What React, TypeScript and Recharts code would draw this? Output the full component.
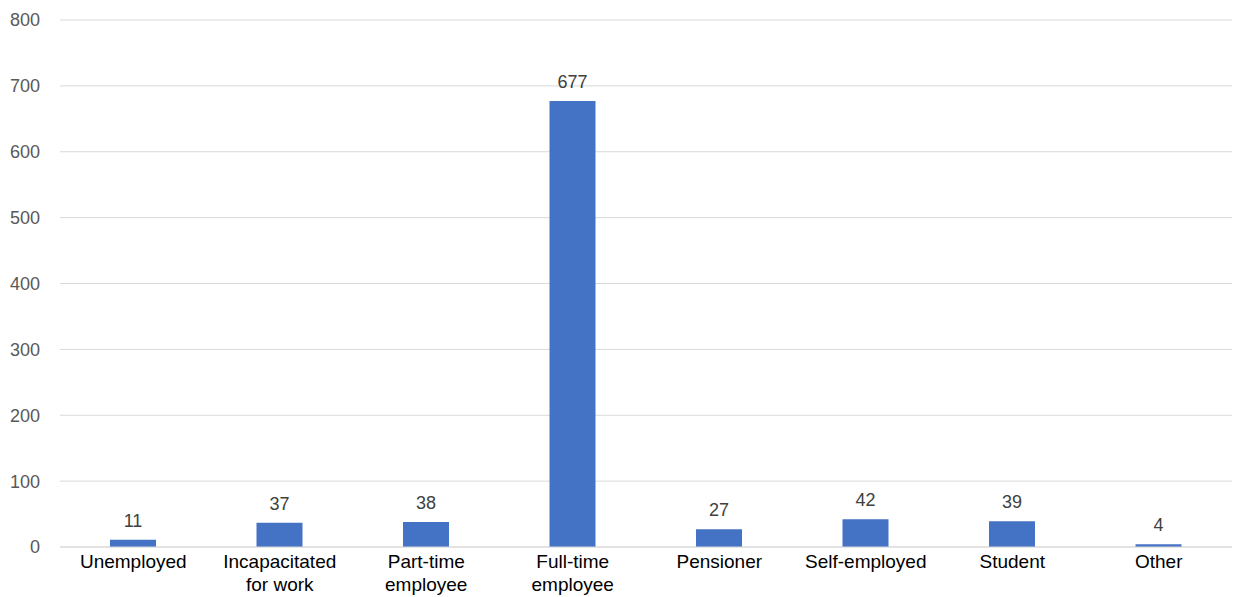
import { Bar, BarChart, CartesianGrid, LabelList, XAxis, YAxis } from 'recharts';

// Employment status categories (line breaks as in the original axis)
const categories = [
  'Unemployed',
  'Incapacitated\nfor work',
  'Part-time\nemployee',
  'Full-time\nemployee',
  'Pensioner',
  'Self-employed',
  'Student',
  'Other',
];
const counts = [11, 37, 38, 677, 27, 42, 39, 4];
const yTicks = [0, 100, 200, 300, 400, 500, 600, 700, 800];

const data = categories.map((name, i) => ({ name, value: counts[i] }));

const FONT = "'Liberation Sans', Arial, sans-serif";

// Multi-line category tick
function CategoryTick({ x, y, payload }: { x?: number; y?: number; payload?: { value: string } }) {
  const lines = String(payload?.value ?? '').split('\n');
  return (
    <text x={x} y={y} textAnchor="middle" fill="#000" fontSize={19} fontFamily={FONT}>
      {lines.map((line, i) => (
        <tspan key={i} x={x} dy={i === 0 ? 13 : 23}>
          {line}
        </tspan>
      ))}
    </text>
  );
}

export default function App() {
  return (
    <div style={{ position: 'absolute', left: 0, top: 0, background: '#fff' }}>
      <BarChart
        width={1234}
        height={597}
        data={data}
        margin={{ top: 20, right: 2, bottom: 0, left: 0 }}
        barCategoryGap={0}
      >
        <CartesianGrid vertical={false} stroke="#d9d9d9" />
        <XAxis
          dataKey="name"
          interval={0}
          height={50}
          tickLine={false}
          axisLine={{ stroke: '#d9d9d9' }}
          tick={<CategoryTick />}
        />
        <YAxis
          width={60}
          domain={[0, 800]}
          ticks={yTicks}
          axisLine={false}
          tickLine={false}
          tickSize={0}
          tickMargin={20}
          tick={{ fontSize: 18, fill: '#595959', fontFamily: FONT }}
        />
        <Bar dataKey="value" fill="#4472c4" barSize={46} isAnimationActive={false}>
          <LabelList
            dataKey="value"
            position="top"
            offset={13}
            fill="#404040"
            fontSize={18}
            fontFamily={FONT}
          />
        </Bar>
      </BarChart>
    </div>
  );
}
